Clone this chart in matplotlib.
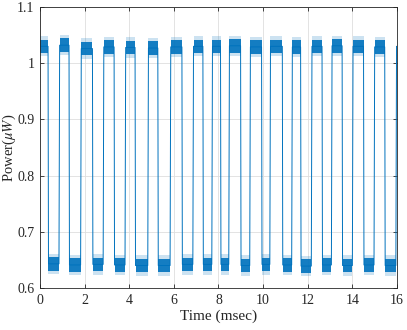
import matplotlib
matplotlib.use("Agg")
import matplotlib.pyplot as plt
from matplotlib.ticker import FormatStrFormatter

# pulse timing (msec)
high_start = [0.00, 0.88, 1.85, 2.86, 3.84, 4.86, 5.86, 6.88, 7.73, 8.49,
              9.43, 10.33, 11.31, 12.19, 13.09, 14.03, 15.00, 15.98]
high_end = [0.36, 1.30, 2.35, 3.32, 4.26, 5.28, 6.36, 7.30, 8.09, 8.99,
            9.93, 10.86, 11.68, 12.64, 13.54, 14.50, 15.45, 16.00]
# plateau levels (uW)
high_level = [1.030, 1.032, 1.026, 1.029, 1.028, 1.027, 1.029, 1.030, 1.030,
              1.031, 1.029, 1.030, 1.029, 1.030, 1.031, 1.030, 1.029, 1.030]
low_level = [0.643, 0.641, 0.642, 0.641, 0.640, 0.640, 0.642, 0.642, 0.642,
             0.640, 0.642, 0.641, 0.639, 0.641, 0.640, 0.641, 0.640]
noise_core = 0.012   # half width of dense noise band
noise_peak = 0.018   # half width of occasional spikes

fall_time = 0.02
rise_time = 0.03

plt.rcParams['font.family'] = ['Liberation Serif', 'DejaVu Serif']
plt.rcParams['mathtext.fontset'] = 'stix'

color = '#0072BD'

fig = plt.figure(figsize=(4.07, 3.30), dpi=100)
ax = fig.add_axes([0.0983, 0.1273, 0.8771, 0.8515])


def band(x0, x1, level):
    ax.fill_between([x0, x1], level - noise_peak, level + noise_peak,
                    color=color, alpha=0.2, lw=0)
    ax.fill_between([x0, x1], level - noise_core, level + noise_core,
                    color=color, alpha=0.9, lw=0)


t, p = [], []
for i in range(len(high_start)):
    t += [high_start[i], high_end[i]]
    p += [high_level[i], high_level[i]]
    band(high_start[i], high_end[i], high_level[i])
    if i < len(low_level):
        lo0 = high_end[i] + fall_time
        lo1 = high_start[i + 1] - rise_time
        t += [lo0, lo1]
        p += [low_level[i], low_level[i]]
        band(lo0, lo1, low_level[i])

ax.plot(t, p, color=color, lw=0.7)

ax.set_xlim(0, 16)
ax.set_ylim(0.6, 1.1)
ax.set_xticks(range(0, 17, 2))
ax.set_yticks([0.6, 0.7, 0.8, 0.9, 1.0, 1.1])
ax.yaxis.set_major_formatter(FormatStrFormatter('%g'))
ax.grid(True, color='#dedede', lw=0.6)
ax.set_axisbelow(True)
ax.tick_params(direction='in', top=True, right=True, labelsize=10,
               length=3, width=0.6, colors='#262626', pad=4)
for s in ax.spines.values():
    s.set_color('#262626')
    s.set_linewidth(0.6)

ax.set_xlabel('Time (msec)', fontsize=11, color='#262626', labelpad=2)
ax.set_ylabel(r'Power($\mu W$)', fontsize=10.5, color='#262626')
ax.yaxis.set_label_coords(-0.062, 0.5)

fig.savefig('out.png', dpi=100)
